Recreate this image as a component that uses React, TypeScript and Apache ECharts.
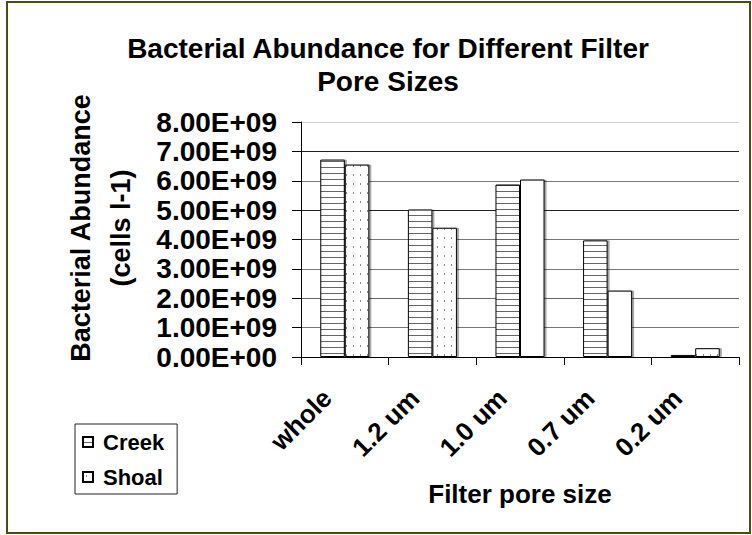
import React, { useEffect, useRef } from 'react';
import * as echarts from 'echarts';

const categories = ['whole', '1.2 um', '1.0 um', '0.7 um', '0.2 um'];
const creekValues = [6.72e9, 5.02e9, 5.87e9, 3.97e9, 0.07e9];
const shoalValues = [6.55e9, 4.4e9, 6.04e9, 2.26e9, 0.3e9];
const yTickLabels = [
  '0.00E+00', '1.00E+09', '2.00E+09', '3.00E+09', '4.00E+09',
  '5.00E+09', '6.00E+09', '7.00E+09', '8.00E+09',
];
const seriesNames = ['Creek', 'Shoal'];
const titleText = 'Bacterial Abundance for Different Filter\nPore Sizes';
const yName = 'Bacterial Abundance\n(cells l-1)';
const xName = 'Filter pore size';

const FONT = "'Liberation Sans', Arial, sans-serif";

function makeTile(w: number, h: number, draw: (ctx: CanvasRenderingContext2D) => void) {
  const c = document.createElement('canvas');
  c.width = w;
  c.height = h;
  const ctx = c.getContext('2d')!;
  ctx.fillStyle = '#ffffff';
  ctx.fillRect(0, 0, w, h);
  draw(ctx);
  return c;
}

export default function App() {
  const ref = useRef<HTMLDivElement>(null);
  useEffect(() => {
    if (!ref.current) return;
    const chart = echarts.init(ref.current, undefined, { renderer: 'svg' });

    const stripeTile = makeTile(6, 6, (ctx) => {
      ctx.fillStyle = '#666666';
      ctx.fillRect(0, 5, 6, 1);
    });
    const dotTile = makeTile(7, 9, (ctx) => {
      ctx.fillStyle = '#8a8a8a';
      ctx.fillRect(3, 3, 1, 2);
    });
    const stripes = { image: stripeTile, repeat: 'repeat', imageWidth: 6, imageHeight: 6 } as any;
    const dots = { image: dotTile, repeat: 'repeat', imageWidth: 7, imageHeight: 9 } as any;

    const plainShoal = [2, 3];
    const barStyle = {
      borderColor: '#000',
      borderWidth: 1,
      shadowColor: 'rgba(0,0,0,0.35)',
      shadowOffsetX: 2,
      shadowOffsetY: 0,
      shadowBlur: 0,
    };

    const option: any = {
      animation: false,
      backgroundColor: '#ffffff',
      title: {
        text: titleText,
        left: 383,
        top: 27,
        textAlign: 'center',
        textStyle: {
          fontFamily: FONT,
          fontWeight: 'bold',
          fontSize: 28,
          lineHeight: 33,
          color: '#000',
        },
      },
      legend: {
        orient: 'vertical',
        left: 75,
        top: 424,
        icon: 'rect',
        itemWidth: 10,
        itemHeight: 10,
        itemGap: 13,
        padding: [7, 13, 6, 7],
        borderColor: '#222',
        borderWidth: 1,
        data: seriesNames,
        textStyle: {
          fontFamily: FONT,
          fontWeight: 'bold',
          fontSize: 22,
          lineHeight: 22,
          color: '#000',
          padding: [0, 0, 0, 5],
        },
      },
      grid: {
        left: 301,
        right: 13,
        top: 122,
        bottom: 178,
        containLabel: false,
        outerBoundsMode: 'none',
      },
      xAxis: {
        type: 'category',
        data: categories,
        name: xName,
        nameLocation: 'middle',
        nameGap: 124,
        nameTextStyle: {
          fontFamily: FONT,
          fontWeight: 'bold',
          fontSize: 26,
          color: '#000',
        },
        axisLine: { lineStyle: { color: '#000', width: 1 } },
        axisTick: { show: true, length: 8, lineStyle: { color: '#000' } },
        axisLabel: {
          rotate: 45,
          margin: 19,
          interval: 0,
          padding: [0, 25, 0, 0],
          fontFamily: FONT,
          fontWeight: 'bold',
          fontSize: 26,
          color: '#000',
        },
      },
      yAxis: {
        type: 'value',
        min: 0,
        max: 8e9,
        interval: 1e9,
        axisLine: { show: true, lineStyle: { color: '#000', width: 1 } },
        axisTick: { show: true, length: 9, lineStyle: { color: '#000' } },
        axisLabel: {
          margin: 24,
          fontFamily: FONT,
          fontWeight: 'bold',
          fontSize: 28,
          color: '#000',
          formatter: (v: number) => yTickLabels[Math.round(v / 1e9)] ?? '',
        },
        splitLine: {
          show: true,
          lineStyle: {
            color: ['#000', '#777', '#666', '#777', '#777', '#222', '#777', '#222', '#d0d0d0'],
            width: 1,
          },
        },
      },
      graphic: [
        {
          type: 'rect',
          silent: true,
          shape: { x: 7, y: 2, width: 743, height: 531 },
          style: { fill: 'none', stroke: '#4b4b14', lineWidth: 2 },
        },
        {
          type: 'text',
          silent: true,
          x: 101,
          y: 228,
          rotation: Math.PI / 2,
          style: {
            text: yName,
            fontFamily: FONT,
            fontWeight: 'bold',
            fontSize: 27,
            lineHeight: 40,
            fill: '#000',
            textAlign: 'center',
            textVerticalAlign: 'middle',
          },
        },
      ],
      series: [
        {
          name: seriesNames[0],
          type: 'bar',
          data: creekValues,
          barGap: '0%',
          barCategoryGap: '44%',
          itemStyle: { ...barStyle, color: stripes },
        },
        {
          name: seriesNames[1],
          type: 'bar',
          data: shoalValues.map((v, i) =>
            plainShoal.includes(i) ? { value: v, itemStyle: { color: '#ffffff' } } : v
          ),
          barGap: '0%',
          barCategoryGap: '44%',
          itemStyle: { ...barStyle, color: dots },
        },
      ],
    };

    chart.setOption(option);
    return () => chart.dispose();
  }, []);

  return (
    <div
      ref={ref}
      style={{ position: 'fixed', left: 0, top: 0, width: 752, height: 535, background: '#fff' }}
    />
  );
}
